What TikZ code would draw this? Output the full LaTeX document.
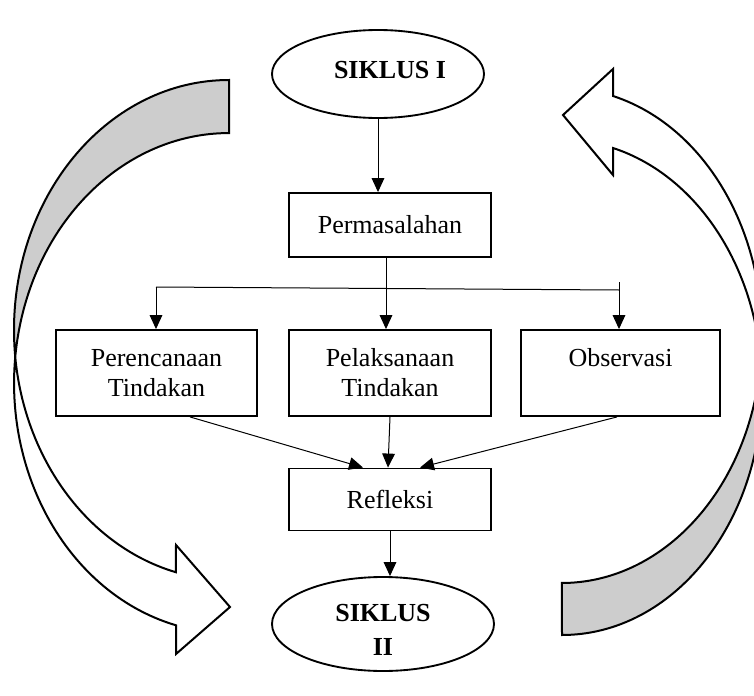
\documentclass[tikz,border=0pt]{standalone}
\usepackage{fontspec}
\setmainfont{Liberation Serif}
\usetikzlibrary{arrows.meta,shapes.geometric,calc}
\definecolor{backgray}{RGB}{205,205,205}
\begin{document}
\begin{tikzpicture}[x=0.75pt,y=-0.75pt,
  box/.style={draw, line width=1.4pt, inner sep=0pt, align=center, font=\fontsize{19.5}{22.5}\selectfont},
  ell/.style={draw, ellipse, line width=1.4pt, inner sep=0pt},
  lbl/.style={font=\fontsize{19.5}{25.5}\selectfont\bfseries, align=center, inner sep=0pt},
  conn/.style={line width=0.75pt},
  arr/.style={conn, -{Triangle[width=9.5pt,length=10.5pt]}},
  band/.style={line width=1.5pt, line join=miter},
]
\clip (0,0) rectangle (754,696);
% left curved arrow
\fill[backgray] (229,80) arc[start angle=-90, end angle=-186.1, x radius=215, y radius=250]
  arc[start angle=-173.9, end angle=-90, x radius=215, y radius=250] -- cycle;
\draw[band] (229,80) arc[start angle=-90, end angle=-255.7, x radius=215, y radius=250]
  -- (176,545) -- (230,607) -- (176,654) -- (176,625.3)
  arc[start angle=-255.7, end angle=-90, x radius=215, y radius=250] -- cycle;
% right curved arrow
\fill[backgray] (562,635) arc[start angle=90, end angle=-6.03, x radius=200, y radius=247.6]
  arc[start angle=6.03, end angle=90, x radius=200, y radius=247.6] -- cycle;
\draw[band] (562,635) arc[start angle=90, end angle=-75.2, x radius=200, y radius=247.6]
  -- (613,175) -- (563,115) -- (613,69) -- (613,96)
  arc[start angle=-75.2, end angle=90, x radius=200, y radius=247.6] -- cycle;
% nodes
\node[ell, minimum width=159pt, minimum height=66pt] (e1) at (378,74) {};
\node[lbl] (t1) at (390,70) {SIKLUS I};
\node[box, minimum width=151.5pt, minimum height=48pt] (perm) at (390,225) {Permasalahan};
\node[box, minimum width=150.75pt, minimum height=64.5pt] (per) at (156.5,373) {Perencanaan\\Tindakan};
\node[box, minimum width=151.5pt, minimum height=64.5pt] (pel) at (390,373) {Pelaksanaan\\Tindakan};
\node[box, minimum width=149.25pt, minimum height=64.5pt] (obs) at (620.5,373) {Observasi\\\phantom{Tindakan}};
\node[box, minimum width=151.5pt, minimum height=46.5pt] (ref) at (390,499.5) {Refleksi};
\node[ell, minimum width=166.5pt, minimum height=70.5pt] (e2) at (383,624) {};
\node[lbl] (t2) at (383,630) {SIKLUS\\II};
% connectors
\coordinate (bm) at (386,287);
\coordinate (bl) at (156,287);
\coordinate (bR) at (619,290);
\coordinate (tk) at (619,282);
\draw[arr] (e1.south) -- (e1.south |- perm.north);
\draw[conn] (bl) -- (bR);
\draw[arr] (perm.south -| bm) -- (bm |- pel.north);
\draw[arr] (bl) -- (bl |- per.north);
\draw[arr] (tk) -- (tk |- obs.north);
\draw[arr] ($(per.south)+(33.5,0)$) -- ($(ref.north)+(-27,0)$);
\draw[arr] (pel.south) -- ($(ref.north)+(-2,0)$);
\draw[arr] ($(obs.south)+(-3.5,0)$) -- ($(ref.north)+(30,0)$);
\draw[arr] (ref.south) -- (ref.south |- e2.north);
\end{tikzpicture}
\end{document}
